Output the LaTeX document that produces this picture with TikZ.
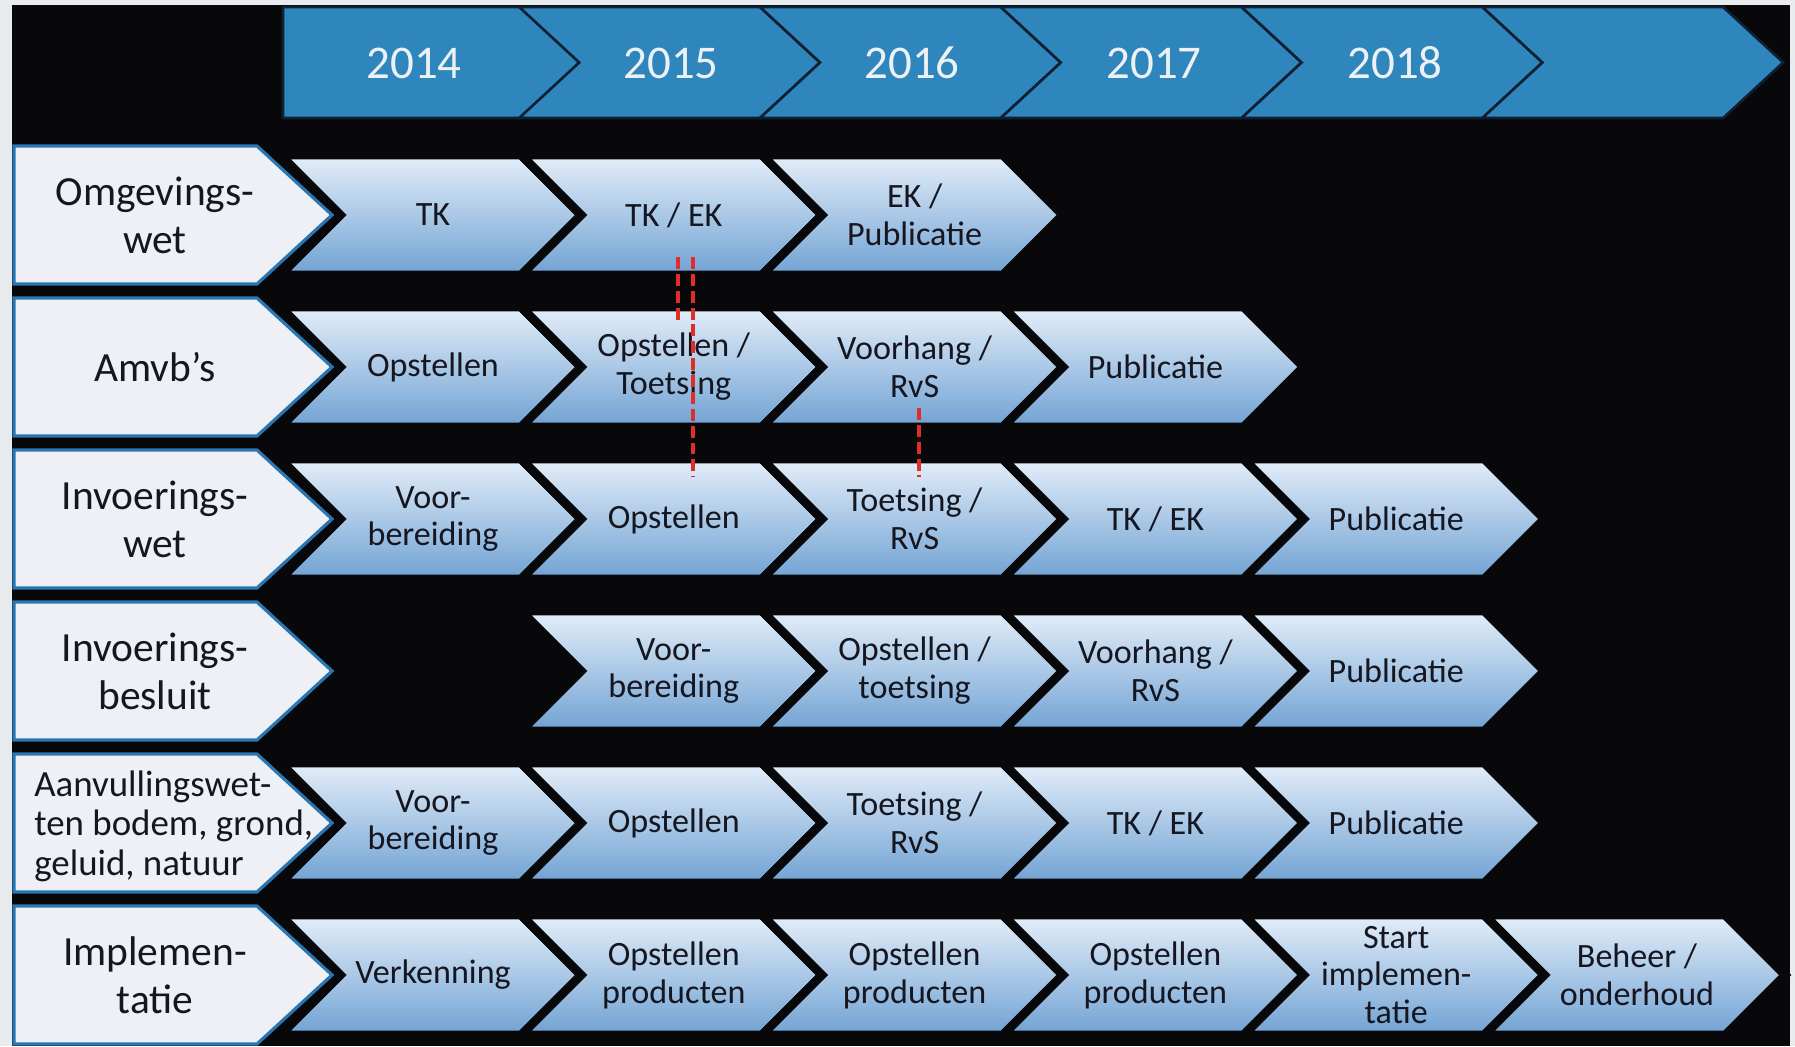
\documentclass[tikz,border=0pt]{standalone}
\usepackage{fontspec}
\setmainfont{Carlito}
\definecolor{margin}{RGB}{232,236,238}
\definecolor{bg}{RGB}{8,8,10}
\definecolor{hdr}{RGB}{47,134,189}
\definecolor{hdrline}{RGB}{14,32,50}
\definecolor{chtop}{RGB}{228,238,249}
\definecolor{chbot}{RGB}{112,162,211}
\definecolor{lblfill}{RGB}{238,240,246}
\definecolor{lblline}{RGB}{40,118,178}
\definecolor{txt}{RGB}{22,22,32}
\definecolor{hdrtxt}{RGB}{236,241,246}
\definecolor{redl}{RGB}{225,45,40}
\newcommand\cellchev[4]{%
  \draw[chevbox] ({280.4+240.8*#2},{#3-60}) -- ++(240.8,0) -- ++(60,60) -- ++(-60,60) -- ++(-240.8,0) -- ++(60,-60) -- cycle;
  \node[celltext] (#1) at ({433+240.8*#2},#3) {#4};
}
\newcommand\lblchev[4]{%
  \draw[lblbox] (14,{#2-69}) -- (257,{#2-69}) -- (332,#2) -- (257,{#2+69}) -- (14,{#2+69}) -- cycle;
  \node[lbltext,#4] (#1) at (155,#2) {#3};
}
\newcommand\hdrchev[1]{%
  \draw[hdrbox] ({278.4+240.8*#1},7) -- ++(240.8,0) -- ++(60,55.5) -- ++(-60,55.5) -- ++(-240.8,0) -- ++(60,-55.5) -- cycle;
}
\begin{document}
\begin{tikzpicture}[x=0.02cm,y=-0.02cm,line join=miter,
  chevbox/.style={draw=bg,line width=5pt,top color=chtop,bottom color=chbot},
  hdrbox/.style={draw=hdrline,line width=1.5pt,fill=hdr},
  lblbox/.style={draw=lblline,line width=1.8pt,fill=lblfill},
  celltext/.style={text=txt,align=center,font=\fontsize{19.4}{21.6}\selectfont,inner sep=0pt},
  lbltext/.style={text=txt,align=center,font=\fontsize{23.6}{27.3}\selectfont,inner sep=0pt},
  hdrtext/.style={text=hdrtxt,font=\fontsize{26.7}{30}\selectfont,inner sep=0pt},
  reddash/.style={draw=redl,line width=2.3pt,dash pattern=on 6.8pt off 2.8pt}]
\useasboundingbox (0,0) rectangle (1795,1046);
\fill[margin] (0,0) rectangle (1795,1046);
\fill[bg] (12,5) rectangle (1790,1046);
% header
\draw[hdrbox] (283,7) -- (520,7) -- (580,62.5) -- (520,118) -- (283,118) -- cycle;
\hdrchev{1}\hdrchev{2}\hdrchev{3}\hdrchev{4}\hdrchev{5}
\node[hdrtext] (y2014) at (414,63) {2014};
\node[hdrtext] (y2015) at (671,63) {2015};
\node[hdrtext] (y2016) at (912,63) {2016};
\node[hdrtext] (y2017) at (1154,63) {2017};
\node[hdrtext] (y2018) at (1395,63) {2018};
% row 1
\cellchev{a0}{0}{215}{TK}
\cellchev{a1}{1}{215}{TK / EK}
\cellchev{a2}{2}{215}{EK /\\Publicatie}
\lblchev{la}{215}{Omgevings-\\wet}{}
% row 2
\cellchev{b0}{0}{367}{Opstellen}
\cellchev{b1}{1}{367}{Opstellen /\\Toetsing}
\cellchev{b2}{2}{367}{Voorhang /\\RvS}
\cellchev{b3}{3}{367}{Publicatie}
\lblchev{lb}{367}{Amvb’s}{}
% row 3
\cellchev{c0}{0}{519}{Voor-\\bereiding}
\cellchev{c1}{1}{519}{Opstellen}
\cellchev{c2}{2}{519}{Toetsing /\\RvS}
\cellchev{c3}{3}{519}{TK / EK}
\cellchev{c4}{4}{519}{Publicatie}
\lblchev{lc}{519}{Invoerings-\\wet}{}
% row 4
\cellchev{d1}{1}{671}{Voor-\\bereiding}
\cellchev{d2}{2}{671}{Opstellen /\\toetsing}
\cellchev{d3}{3}{671}{Voorhang /\\RvS}
\cellchev{d4}{4}{671}{Publicatie}
\lblchev{ld}{671}{Invoerings-\\besluit}{}
% row 5
\cellchev{e0}{0}{823}{Voor-\\bereiding}
\cellchev{e1}{1}{823}{Opstellen}
\cellchev{e2}{2}{823}{Toetsing /\\RvS}
\cellchev{e3}{3}{823}{TK / EK}
\cellchev{e4}{4}{823}{Publicatie}
\draw[lblbox] (14,754) -- (257,754) -- (332,823) -- (257,892) -- (14,892) -- cycle;
\node[text=txt,align=left,anchor=west,inner sep=0pt,font=\fontsize{21}{22.5}\selectfont] (le) at (34,826) {Aanvullingswet-\\ten bodem, grond,\\geluid, natuur};
% row 6
\cellchev{f0}{0}{975}{Verkenning}
\cellchev{f1}{1}{975}{Opstellen\\producten}
\cellchev{f2}{2}{975}{Opstellen\\producten}
\cellchev{f3}{3}{975}{Opstellen\\producten}
\cellchev{f4}{4}{975}{Start\\implemen-\\tatie}
\cellchev{f5}{5}{975}{Beheer /\\onderhoud}
\lblchev{lf}{975}{Implemen-\\tatie}{}
% red dashed markers
\coordinate (r1a) at (678,257); \coordinate (r1b) at (678,323);
\coordinate (r2a) at (693,257); \coordinate (r2b) at (693,477);
\coordinate (r3a) at (919,408); \coordinate (r3b) at (919,477);
\draw[reddash] (r1a) -- (r1b);
\draw[reddash] (r2a) -- (r2b);
\draw[reddash] (r3a) -- (r3b);
\end{tikzpicture}
\end{document}
